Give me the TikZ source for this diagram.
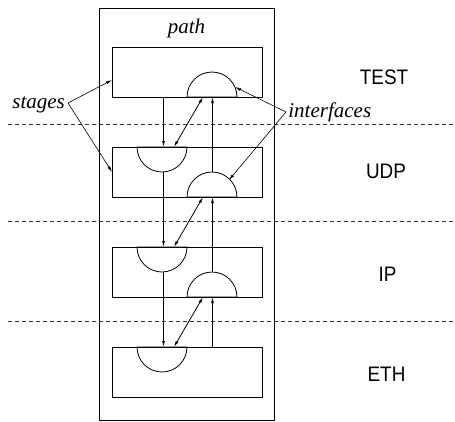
\documentclass[tikz,border=0pt]{standalone}
\usepackage{fontspec}
\setmainfont{Liberation Serif}
\setsansfont{Liberation Sans}
\usetikzlibrary{arrows.meta}
\begin{document}
\begin{tikzpicture}[x=1pt,y=-1pt, line width=0.8pt,
  stagebox/.style={draw, minimum width=150pt, minimum height=50pt, inner sep=0pt},
  arr/.style={-{Latex[length=6pt,width=3pt]}},
  darr/.style={{Latex[length=6pt,width=3pt]}-{Latex[length=6pt,width=3pt]}},
  layer/.style={font=\sffamily\fontsize{21}{21}\selectfont, inner sep=0pt, xscale=0.9},
  lbl/.style={font=\itshape\fontsize{21}{21}\selectfont, inner sep=0pt},
  sep/.style={dash pattern=on 4pt off 3pt, line width=0.6pt, black!80}]
\useasboundingbox (0,0) rectangle (455,421);

% outer path box
\node[draw, minimum width=175pt, minimum height=411.5pt, inner sep=0pt] (pathbox) at (187,214.25) {};
\node[lbl, anchor=base] (pathlbl) at (186.5,33) {path};

% dashed separators
\coordinate (s1l) at (8,124);   \coordinate (s1r) at (455,124);
\coordinate (s2l) at (8,221);   \coordinate (s2r) at (455,221);
\coordinate (s3l) at (8,321);   \coordinate (s3r) at (455,321);
\draw[sep] (s1l) -- (s1r);
\draw[sep] (s2l) -- (s2r);
\draw[sep] (s3l) -- (s3r);

% stage boxes
\node[stagebox] (test) at (187,72) {};
\node[stagebox] (udp)  at (187,172) {};
\node[stagebox] (ip)   at (187,272) {};
\node[stagebox] (eth)  at (187,372) {};

% interfaces (semicircles)
\draw (187,97) arc[start angle=180, end angle=360, radius=25] -- cycle;  % TEST up
\draw (137,147) arc[start angle=180, end angle=0, radius=25] -- cycle;   % UDP down
\draw (187,197) arc[start angle=180, end angle=360, radius=25] -- cycle; % UDP up
\draw (137,247) arc[start angle=180, end angle=0, radius=25] -- cycle;   % IP down
\draw (187,297) arc[start angle=180, end angle=360, radius=25] -- cycle; % IP up
\draw (137,347) arc[start angle=180, end angle=0, radius=25] -- cycle;   % ETH down

% connector end points
\coordinate (t1) at (163.5,97);  \coordinate (u1) at (163.5,147);
\coordinate (u1b) at (163.5,172); \coordinate (i1) at (163.5,247);
\coordinate (i1b) at (163.5,272); \coordinate (e1) at (163.5,347);

\coordinate (t2) at (203,97);   \coordinate (u2) at (174,147);
\coordinate (u2b) at (203,197); \coordinate (i2) at (174,247);
\coordinate (i2b) at (203,297); \coordinate (e2) at (174,347);

\coordinate (t3) at (212.5,97);   \coordinate (u3) at (212.5,172);
\coordinate (u3b) at (212.5,197); \coordinate (i3) at (212.5,272);
\coordinate (i3b) at (212.5,297); \coordinate (e3) at (212.5,347);

\draw[arr] (t1) -- (u1);
\draw[arr] (u1b) -- (i1);
\draw[arr] (i1b) -- (e1);

\draw[darr] (u2) -- (t2);
\draw[darr] (i2) -- (u2b);
\draw[darr] (e2) -- (i2b);

\draw[arr] (u3) -- (t3);
\draw[arr] (i3) -- (u3b);
\draw[arr] (e3) -- (i3b);

% layer labels
\node[layer] (ltest) at (384,77) {TEST};
\node[layer] (ludp)  at (386,171) {UDP};
\node[layer] (lip)   at (387.5,274) {IP};
\node[layer] (leth)  at (386.5,374) {ETH};

% stages
\node[lbl, anchor=base west] (stages) at (12,108.5) {stages};
\coordinate (sv) at (68,103);
\coordinate (st1) at (112,80);
\coordinate (st2) at (112,172);
\draw[arr, line width=0.6pt] (sv) -- (st1);
\draw[arr, line width=0.6pt] (sv) -- (st2);

% interfaces
\node[lbl, anchor=base west] (intf) at (288,117) {interfaces};
\coordinate (iv) at (286,112);
\coordinate (if1) at (235,87);
\coordinate (if2) at (229,180);
\draw[arr, line width=0.6pt] (iv) -- (if1);
\draw[arr, line width=0.6pt] (iv) -- (if2);
\end{tikzpicture}
\end{document}
